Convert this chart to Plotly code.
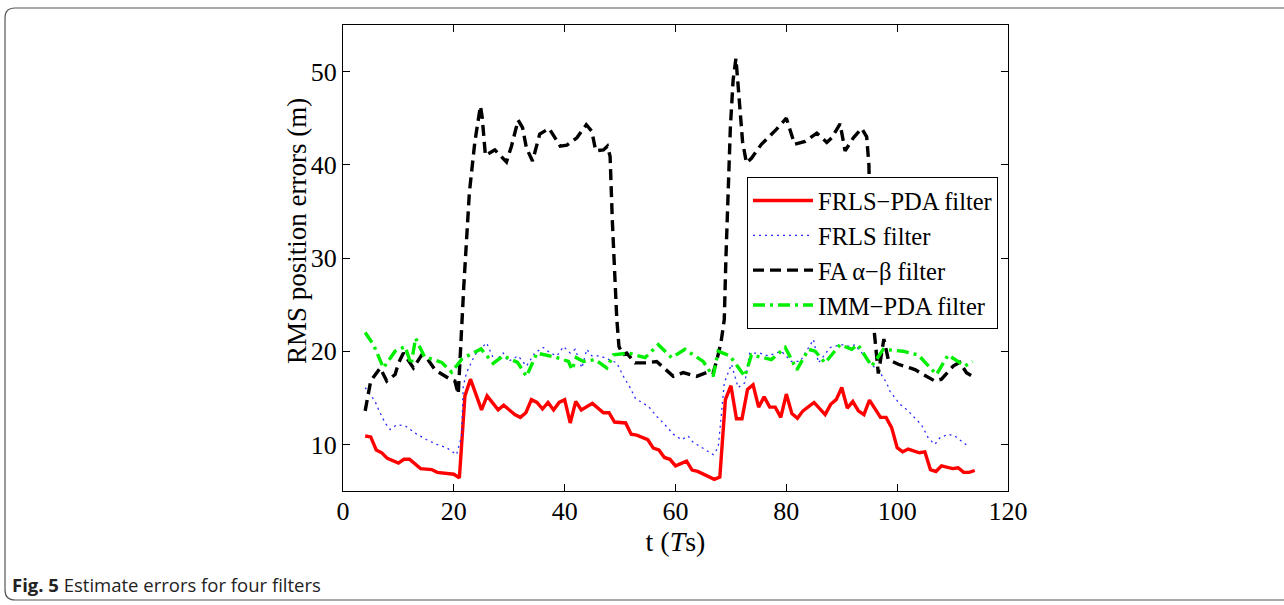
import plotly.graph_objects as go

# ---------------- data ----------------
red_t = [4,5,6,7,8,10,11,12,14,16,17,20,21,22,23,25,26,27,28,29,31,32,33,34,35,36,37,38,39,40,41,42,43,45,47,48,49,51,52,53,55,56,57,58,59,60,62,63,64,67,68,69,70,71,72,73,74,75,76,77,78,79,80,81,82,83,85,87,88,89,90,91,92,93,94,95,96,97,98,99,100,101,102,104,105,106,107,108,110,111,112,113,114]
red_v = [10.9,10.8,9.4,9.1,8.5,8.0,8.4,8.4,7.4,7.3,7.0,6.8,6.4,15.2,17.0,13.7,15.2,14.4,13.7,14.2,13.2,12.9,13.4,14.8,14.5,13.8,14.5,13.7,14.5,14.8,12.3,14.6,13.7,14.4,13.4,13.4,12.4,12.3,11.1,11.0,10.5,9.6,9.4,8.6,8.4,7.7,8.2,7.25,7.1,6.25,6.5,14.8,16.3,12.75,12.75,15.9,16.4,14.0,15.1,14.0,14.0,12.9,15.4,13.3,12.8,13.6,14.5,13.2,14.3,14.8,16.1,13.9,14.6,13.6,13.2,14.75,13.9,12.9,12.9,11.8,9.65,9.2,9.5,9.1,9.2,7.3,7.1,7.7,7.4,7.5,7.0,7.0,7.2]

blue_t = [4,5.8,6.4,7.6,8.5,9.7,11.2,13.3,15.1,16.9,18.7,20.5,21.4,21.7,22.3,23.2,23.8,25.9,27.4,28.9,29.8,31.6,33.1,34.6,36.1,37.4,38.6,39.8,41,41.9,43.1,44,44.9,46.4,48.2,49.4,50.6,51.8,52.7,53.9,55.1,56.6,57.8,59.6,61.1,62.3,63.2,64.4,66.8,67.7,68.2,68.5,68.8,69.5,70.1,71.3,72.5,73.4,75.2,76.7,79.1,80.9,82.5,84.9,85.8,87.9,90,91.5,92.4,93.3,94.2,95.1,96.9,98.1,98.7,100.5,101.7,102.6,104.4,105.6,106.8,107.7,109.2,110.4,111.6,112.8]
blue_v = [16.1,14.6,13.75,12.3,11.6,12.1,12.0,11.1,10.5,10.0,9.65,8.9,10.9,16.25,17.7,18.75,19.6,20.9,18.9,19.8,18.9,19.5,18.4,19.8,20.4,19.8,19.5,20.5,19.8,20.2,18.2,20.2,19.5,19.5,19.1,18.75,17.3,16.1,15.0,14.5,14.1,13.0,12.3,11.1,10.5,10.9,10.2,9.8,8.9,9.65,12.7,14.8,16.6,17.7,18.6,16.1,16.6,19.8,19.8,19.5,20.0,18.9,18.9,21.25,18.75,20.4,20.7,20.5,20.7,20.0,19.5,18.75,17.7,16.6,15.7,14.3,13.75,13.2,12.1,10.7,10.0,10.7,11.1,10.9,10.35,9.8]

black_t = [4,5,6.7,7.9,9.4,10,10.9,12.7,14.2,15.1,16.6,19.3,20.2,20.8,21.8,22.8,23.8,24.8,25.1,25.7,27.4,29.5,30.4,31.6,32.4,33.1,34.2,35.5,37.2,39.2,40.4,42.2,43.9,44.9,45.6,47,47.7,48.2,48.6,49,49.4,49.8,50.5,51.2,52.7,54.7,56.6,59.6,61.4,63.8,66.2,66.8,67.4,68.2,68.8,69.1,69.5,69.9,70.4,70.9,71.3,71.7,72.1,72.8,73.7,75.5,78.2,80,81.5,83.4,85.5,87.3,88.2,89.7,90.6,92.1,93.6,94.5,94.9,95.3,95.8,96.6,97.6,98.4,100.2,102.3,103.3,104.7,106.8,108,110.1,111.3,112.5,113.6]
black_v = [13.6,16.8,18.2,16.8,17.5,18.7,19.8,18.2,19.6,19.3,18.0,17.0,16.8,15.4,27,37,42.5,46.3,45.2,41.0,41.6,40.3,42.0,44.8,44.0,41.8,40.4,43.3,43.9,42.0,42.1,42.9,44.3,43.6,41.5,41.6,42.0,40.9,34,28.5,23.5,20.5,19.6,19.8,18.75,18.75,18.9,17.3,17.7,17.3,17.85,17.7,18.9,20.9,23.4,30,37,44,49.1,51.4,48.5,45.5,42.5,40.2,40.7,42.2,43.8,45.0,42.2,42.5,43.4,42.4,42.9,44.4,41.5,42.9,43.9,43.0,40,29,22.5,17.6,21.3,19.1,18.6,18.2,18.0,17.5,16.8,17.0,18.4,18.8,17.7,17.3]

green_t = [4,5.5,7.3,9.4,11.2,12.3,13.1,14.7,17.8,19.6,21.5,24.9,27.1,28.9,31.5,33.1,35,38.6,40.7,41.3,42.1,43.4,45.5,47.6,48.8,51.5,54.5,56.9,59.3,61.7,65,66.8,67.7,69.8,72.5,73.7,77.3,79.8,81.9,84,85.2,87,89.7,91.8,92.9,95.4,97.5,101,103.8,107.1,109.2,112.2,113.6]
green_v = [22.0,20.7,18.2,20.0,20.5,18.6,21.4,19.4,18.8,17.75,19.2,20.25,18.7,19.5,18.8,17.3,19.8,19.3,18.9,18.0,19.3,18.9,19.1,18.2,19.6,19.8,19.3,20.7,19.3,20.2,18.9,17.3,20.0,19.5,17.3,19.6,19.1,20.4,18.0,20.2,20.0,18.75,20.7,20.2,20.7,18.4,20.2,20.0,19.6,17.5,19.6,18.4,18.9]

series_names = ["FRLS\u2212PDA filter", "FRLS filter", "FA \u03b1\u2212\u03b2 filter", "IMM\u2212PDA filter"]
x_ticks = [0, 20, 40, 60, 80, 100, 120]
y_ticks = [10, 20, 30, 40, 50]

# ---------------- layout geometry (pixels) ----------------
W, H = 1284, 605
L, R, T, B = 343, 1008, 25, 491


def px(xp):
    return (xp - L) / (R - L)


def py(yp):
    return (B - yp) / (B - T)


SERIF = "Liberation Serif, Times New Roman, serif"

fig = go.Figure()
fig.add_trace(go.Scatter(x=red_t, y=red_v, mode="lines", name=series_names[0],
                         line=dict(color="#ff0000", width=3.4)))
fig.add_trace(go.Scatter(x=blue_t, y=blue_v, mode="lines", name=series_names[1],
                         line=dict(color="#2a2aff", width=1.3, dash="2px,4px")))
fig.add_trace(go.Scatter(x=black_t, y=black_v, mode="lines", name=series_names[2],
                         line=dict(color="#000000", width=3.4, dash="11px,6px")))
fig.add_trace(go.Scatter(x=green_t, y=green_v, mode="lines", name=series_names[3],
                         line=dict(color="#00ee00", width=3.4, dash="12px,5px,3px,5px")))

axis_common = dict(showline=True, linecolor="black", linewidth=1, mirror="ticks",
                   ticks="inside", ticklen=7, tickcolor="black", tickwidth=1,
                   showgrid=False, zeroline=False,
                   tickfont=dict(family=SERIF, size=26, color="black"))

fig.update_xaxes(range=[0, 120], tickvals=x_ticks, ticklabelstandoff=-3, **axis_common,
                 title=dict(text="t (<i>T</i>s)", font=dict(family=SERIF, size=28, color="black"), standoff=4))
fig.update_yaxes(range=[5, 55], tickvals=y_ticks, **axis_common)

# outer rounded frame
rad = 10
lft, top, rgt, bot = 5, 8, 1300, 600
path = (f"M {px(rgt)} {py(top)} L {px(lft + rad)} {py(top)} "
        f"Q {px(lft)} {py(top)} {px(lft)} {py(top + rad)} "
        f"L {px(lft)} {py(bot - rad)} "
        f"Q {px(lft)} {py(bot)} {px(lft + rad)} {py(bot)} "
        f"L {px(rgt)} {py(bot)}")

fig.update_layout(
    width=W, height=H,
    margin=dict(l=L, r=W - R, t=T, b=H - B, autoexpand=False),
    paper_bgcolor="white", plot_bgcolor="white",
    showlegend=True,
    legend=dict(x=px(747), y=py(177), xanchor="left", yanchor="top",
                bgcolor="white", bordercolor="black", borderwidth=1,
                font=dict(family=SERIF, size=24.5, color="black"),
                tracegroupgap=0, itemwidth=60),
    shapes=[dict(type="path", xref="paper", yref="paper", path=path,
                 line=dict(color="#555555", width=1.2), layer="above")],
    annotations=[
        dict(x=px(297), y=py(231), xref="paper", yref="paper",
             xanchor="center", yanchor="middle", showarrow=False, textangle=-90,
             text="RMS position errors (m)",
             font=dict(family=SERIF, size=27, color="black")),
        dict(x=px(10), y=py(584), xref="paper", yref="paper",
             xanchor="left", yanchor="middle", showarrow=False,
             text="<b>Fig. 5</b> Estimate errors for four filters",
             font=dict(family="Open Sans, sans-serif", size=18.5, color="#222222")),
    ],
)

fig.write_html("out.html", config={"displayModeBar": False},
               post_script="document.body.style.margin='0';")
